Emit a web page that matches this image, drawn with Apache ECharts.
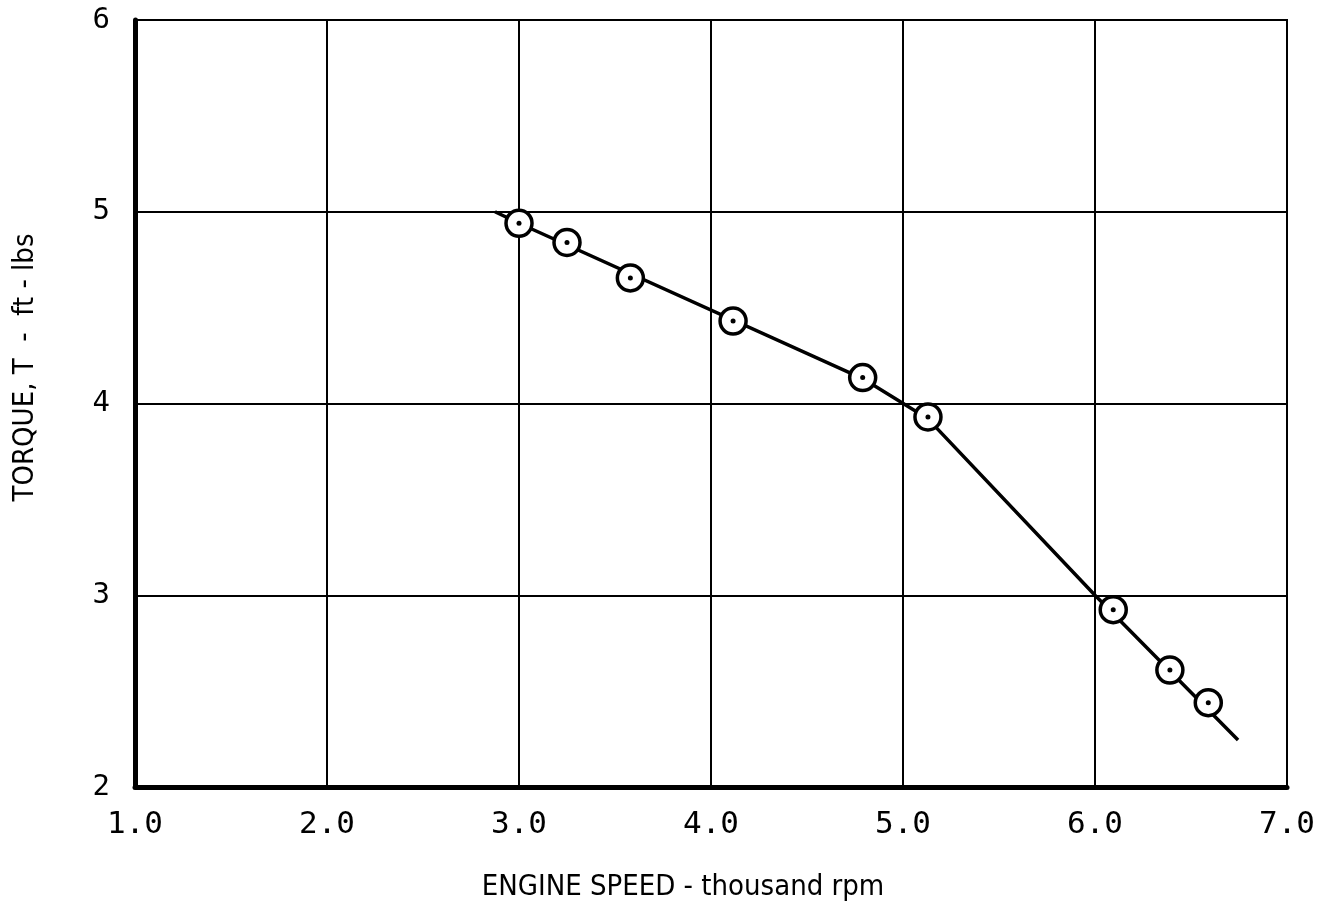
<!DOCTYPE html>
<html>
<head>
<meta charset="utf-8">
<script src="https://cdn.jsdelivr.net/npm/echarts@6/dist/echarts.min.js"></script>
<style>
  html, body { margin: 0; padding: 0; background: #fff; }
  #chart { width: 1331px; height: 920px; }
</style>
</head>
<body>
<div id="chart"></div>
<script>
// measured points (thousand rpm, ft-lbs)
var speedPts  = [3.0, 3.25, 3.58, 4.115, 4.79, 5.13, 6.095, 6.39, 6.59];
var torquePts = [4.94, 4.84, 4.655, 4.43, 4.135, 3.93, 2.925, 2.61, 2.44];

// faired curve through the points
var curveSpeed  = [2.875, 3.0, 4.79, 5.13, 6.0, 6.745];
var curveTorque = [5.0, 4.94, 4.13, 3.92, 3.0, 2.245];

var xTicks = [1, 2, 3, 4, 5, 6, 7];
var yTicks = [2, 3, 4, 5, 6];

var chart = echarts.init(document.getElementById('chart'));

var zip = function(a, b) { return a.map(function(v, i) { return [v, b[i]]; }); };

var nameFont = { fontFamily: '"DejaVu Sans Condensed", "DejaVu Sans"', fontSize: 29, color: '#000' };

chart.setOption({
  animation: false,
  backgroundColor: '#fff',
  grid: {
    left: 135, right: 44, top: 20, bottom: 133,
    show: true, borderColor: '#000', borderWidth: 2
  },
  xAxis: {
    type: 'value',
    min: xTicks[0], max: xTicks[xTicks.length - 1], interval: 1,
    name: 'ENGINE SPEED - thousand rpm',
    nameLocation: 'middle', nameGap: 86,
    nameTextStyle: Object.assign({ padding: [0, 56, 0, 0] }, nameFont),
    axisLine: { lineStyle: { color: '#000', width: 5 } },
    axisTick: { show: false },
    axisLabel: {
      margin: 22, fontFamily: 'DejaVu Sans Mono', fontSize: 31, color: '#000',
      formatter: function(v) { return v.toFixed(1); }
    },
    splitLine: { lineStyle: { color: '#000', width: 2 } }
  },
  yAxis: {
    type: 'value',
    min: yTicks[0], max: yTicks[yTicks.length - 1], interval: 1,
    name: 'TORQUE, T  -  ft - lbs',
    nameLocation: 'middle', nameGap: 95,
    nameTextStyle: Object.assign({ padding: [0, 0, 0, 72] }, nameFont),
    axisLine: { show: true, lineStyle: { color: '#000', width: 5 } },
    axisTick: { show: false },
    axisLabel: { margin: 25, fontFamily: 'DejaVu Sans Mono', fontSize: 29, color: '#000' },
    splitLine: { lineStyle: { color: '#000', width: 2 } }
  },
  series: [
    {
      type: 'line',
      data: zip(curveSpeed, curveTorque),
      showSymbol: false,
      lineStyle: { color: '#000', width: 3.5 },
      z: 3
    },
    {
      type: 'scatter',
      data: zip(speedPts, torquePts),
      symbol: 'circle',
      symbolSize: 26,
      itemStyle: { color: '#fff', borderColor: '#000', borderWidth: 3.5, opacity: 1 },
      z: 4
    },
    {
      type: 'scatter',
      data: zip(speedPts, torquePts),
      symbol: 'circle',
      symbolSize: 5,
      itemStyle: { color: '#000', opacity: 1 },
      z: 5
    }
  ]
});
</script>
</body>
</html>
